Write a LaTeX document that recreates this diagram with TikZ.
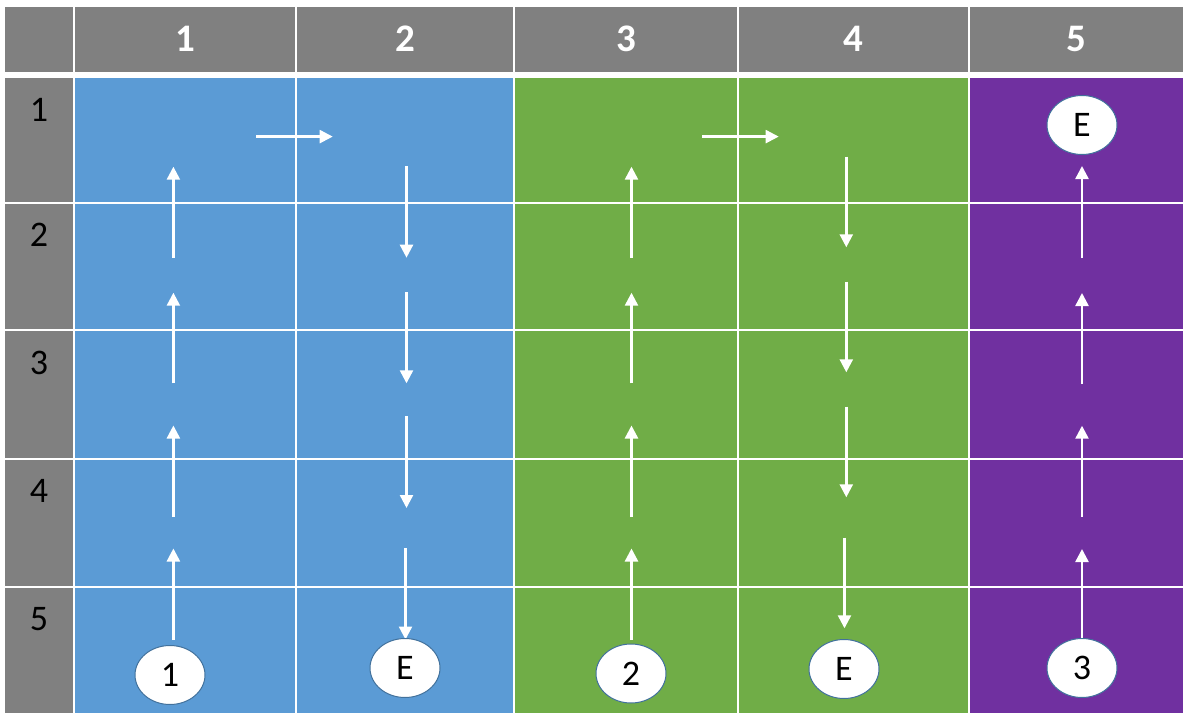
\documentclass[tikz,border=0pt]{standalone}
\usepackage{fontspec}
\setmainfont{Carlito}
\usetikzlibrary{arrows.meta,shapes.geometric}
\definecolor{hdr}{HTML}{808080}
\definecolor{cblue}{HTML}{5B9BD5}
\definecolor{cgreen}{HTML}{70AD47}
\definecolor{cpurple}{HTML}{7030A0}
\definecolor{eline}{HTML}{41719C}
\begin{document}
\begin{tikzpicture}[x=1pt,y=-1pt,
  flow/.style={draw=white,line width=2.4pt,-{Triangle[length=13pt,width=13pt]}},
  endnode/.style={ellipse,draw=eline,line width=1pt,fill=white,minimum width=70pt,minimum height=59pt,inner sep=0pt,font=\fontsize{36}{40}\selectfont},
  hdrtext/.style={text=white,font=\fontsize{39}{44}\selectfont\bfseries},
  rowtext/.style={text=black,font=\fontsize{36}{40}\selectfont,anchor=base}]
\fill[white] (0,0) rectangle (1187,717);
\useasboundingbox (0,0) rectangle (1187,717);
% header corner
\fill[hdr] (5,6.7) rectangle (73.3,71.7);
% header cells and body cells
\foreach \xa/\xb/\c [count=\i] in {75.3/294.5/cblue,296.5/513.4/cblue,515.4/736.7/cgreen,738.7/967.8/cgreen,969.8/1182.7/cpurple}{
  \fill[hdr] (\xa,6.7) rectangle (\xb,71.7);
  \node[hdrtext] (h\i) at ({(\xa+\xb)/2},39.2) {\i};
  \foreach \ya/\yb in {78.3/201.7,203.7/329.3,331.3/457.7,459.7/585.7,587.7/712.7}{
    \fill[\c] (\xa,\ya) rectangle (\xb,\yb);
  }
}
% row label cells
\foreach \ya/\yb [count=\i] in {78.3/201.7,203.7/329.3,331.3/457.7,459.7/585.7,587.7/712.7}{
  \fill[hdr] (5,\ya) rectangle (73.3,\yb);
  \node[rowtext] (r\i) at (39,\ya+43) {\i};
}
% vertical arrows
\foreach \x/\a/\b [count=\k] in {
  173.4/640/548.5, 173.4/517/425.5, 173.4/383.3/292.7, 173.4/257.7/166.7,
  406.5/166/257.7, 406.5/292.3/383.3, 406.5/416/508, 405.5/548/639.5,
  631.5/640/548.5, 631.5/517/425.5, 631.5/383.3/292.7, 631.5/257.7/166.7,
  846.3/156.7/247.3, 846.3/281.7/372.3, 846.3/406.7/497.3, 844.5/537.7/628.3,
  1082/639.3/549, 1082/516.7/425.7, 1082/384/293, 1082/258/166}{
  \coordinate (va\k) at (\x,\a);
  \coordinate (vb\k) at (\x,\b);
  \draw[flow] (va\k) -- (vb\k);
}
% horizontal arrows
\foreach \y/\a/\b [count=\k] in {136.6/256/332.7, 136.6/702.3/778.7}{
  \coordinate (ha\k) at (\a,\y);
  \coordinate (hb\k) at (\b,\y);
  \draw[flow] (ha\k) -- (hb\k);
}
% start / end ellipses
\node[endnode] (s1) at (170,675) {1};
\node[endnode] (t1) at (405,668) {E};
\node[endnode] (s2) at (631,673.5) {2};
\node[endnode] (t2) at (844,669) {E};
\node[endnode] (s3) at (1082,668) {3};
\node[endnode] (t3) at (1082,125) {E};
\end{tikzpicture}
\end{document}
